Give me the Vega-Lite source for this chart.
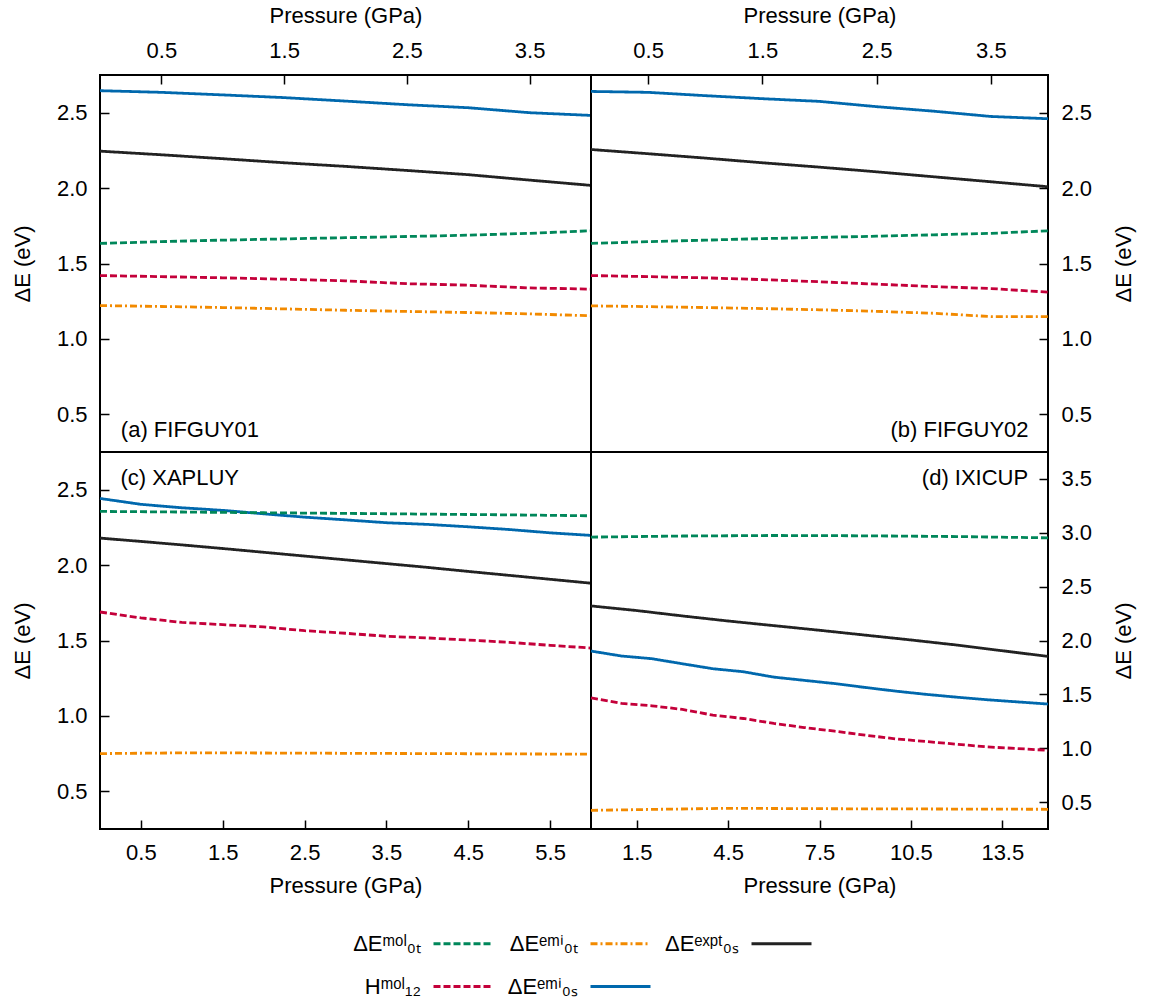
{
  "$schema": "https://vega.github.io/schema/vega-lite/v6.json",
  "background": "white",
  "padding": {"left": 10, "top": 3, "right": 5, "bottom": 5},
  "datasets": {
    "curves": [
      {"panel": "a", "series": "dE0S_emi", "p": 0, "e": 2.646}, {"panel": "a", "series": "dE0S_emi", "p": 0.5, "e": 2.635}, {"panel": "a", "series": "dE0S_emi", "p": 1, "e": 2.618}, {"panel": "a", "series": "dE0S_emi", "p": 1.5, "e": 2.6}, {"panel": "a", "series": "dE0S_emi", "p": 2, "e": 2.577}, {"panel": "a", "series": "dE0S_emi", "p": 2.5, "e": 2.553}, {"panel": "a", "series": "dE0S_emi", "p": 3, "e": 2.533}, {"panel": "a", "series": "dE0S_emi", "p": 3.5, "e": 2.5}, {"panel": "a", "series": "dE0S_emi", "p": 4, "e": 2.482},
      {"panel": "a", "series": "dE0S_expt", "p": 0, "e": 2.245}, {"panel": "a", "series": "dE0S_expt", "p": 0.5, "e": 2.221}, {"panel": "a", "series": "dE0S_expt", "p": 1, "e": 2.195}, {"panel": "a", "series": "dE0S_expt", "p": 1.5, "e": 2.168}, {"panel": "a", "series": "dE0S_expt", "p": 2, "e": 2.144}, {"panel": "a", "series": "dE0S_expt", "p": 2.5, "e": 2.117}, {"panel": "a", "series": "dE0S_expt", "p": 3, "e": 2.089}, {"panel": "a", "series": "dE0S_expt", "p": 3.5, "e": 2.053}, {"panel": "a", "series": "dE0S_expt", "p": 4, "e": 2.018},
      {"panel": "a", "series": "dE0T_mol", "p": 0, "e": 1.633}, {"panel": "a", "series": "dE0T_mol", "p": 0.5, "e": 1.645}, {"panel": "a", "series": "dE0T_mol", "p": 1, "e": 1.655}, {"panel": "a", "series": "dE0T_mol", "p": 1.5, "e": 1.663}, {"panel": "a", "series": "dE0T_mol", "p": 2, "e": 1.671}, {"panel": "a", "series": "dE0T_mol", "p": 2.5, "e": 1.679}, {"panel": "a", "series": "dE0T_mol", "p": 3, "e": 1.688}, {"panel": "a", "series": "dE0T_mol", "p": 3.5, "e": 1.7}, {"panel": "a", "series": "dE0T_mol", "p": 4, "e": 1.717},
      {"panel": "a", "series": "H12_mol", "p": 0, "e": 1.42}, {"panel": "a", "series": "H12_mol", "p": 0.5, "e": 1.413}, {"panel": "a", "series": "H12_mol", "p": 1, "e": 1.405}, {"panel": "a", "series": "H12_mol", "p": 1.5, "e": 1.396}, {"panel": "a", "series": "H12_mol", "p": 2, "e": 1.385}, {"panel": "a", "series": "H12_mol", "p": 2.5, "e": 1.366}, {"panel": "a", "series": "H12_mol", "p": 3, "e": 1.356}, {"panel": "a", "series": "H12_mol", "p": 3.5, "e": 1.338}, {"panel": "a", "series": "H12_mol", "p": 4, "e": 1.33},
      {"panel": "a", "series": "dE0T_emi", "p": 0, "e": 1.221}, {"panel": "a", "series": "dE0T_emi", "p": 0.5, "e": 1.215}, {"panel": "a", "series": "dE0T_emi", "p": 1, "e": 1.208}, {"panel": "a", "series": "dE0T_emi", "p": 1.5, "e": 1.199}, {"panel": "a", "series": "dE0T_emi", "p": 2, "e": 1.19}, {"panel": "a", "series": "dE0T_emi", "p": 2.5, "e": 1.182}, {"panel": "a", "series": "dE0T_emi", "p": 3, "e": 1.175}, {"panel": "a", "series": "dE0T_emi", "p": 3.5, "e": 1.166}, {"panel": "a", "series": "dE0T_emi", "p": 4, "e": 1.153},

      {"panel": "b", "series": "dE0S_emi", "p": 0, "e": 2.641}, {"panel": "b", "series": "dE0S_emi", "p": 0.5, "e": 2.635}, {"panel": "b", "series": "dE0S_emi", "p": 1, "e": 2.613}, {"panel": "b", "series": "dE0S_emi", "p": 1.5, "e": 2.593}, {"panel": "b", "series": "dE0S_emi", "p": 2, "e": 2.575}, {"panel": "b", "series": "dE0S_emi", "p": 2.5, "e": 2.54}, {"panel": "b", "series": "dE0S_emi", "p": 3, "e": 2.51}, {"panel": "b", "series": "dE0S_emi", "p": 3.5, "e": 2.475}, {"panel": "b", "series": "dE0S_emi", "p": 4, "e": 2.46},
      {"panel": "b", "series": "dE0S_expt", "p": 0, "e": 2.256}, {"panel": "b", "series": "dE0S_expt", "p": 0.5, "e": 2.228}, {"panel": "b", "series": "dE0S_expt", "p": 1, "e": 2.199}, {"panel": "b", "series": "dE0S_expt", "p": 1.5, "e": 2.168}, {"panel": "b", "series": "dE0S_expt", "p": 2, "e": 2.139}, {"panel": "b", "series": "dE0S_expt", "p": 2.5, "e": 2.108}, {"panel": "b", "series": "dE0S_expt", "p": 3, "e": 2.075}, {"panel": "b", "series": "dE0S_expt", "p": 3.5, "e": 2.042}, {"panel": "b", "series": "dE0S_expt", "p": 4, "e": 2.009},
      {"panel": "b", "series": "dE0T_mol", "p": 0, "e": 1.633}, {"panel": "b", "series": "dE0T_mol", "p": 0.5, "e": 1.645}, {"panel": "b", "series": "dE0T_mol", "p": 1, "e": 1.655}, {"panel": "b", "series": "dE0T_mol", "p": 1.5, "e": 1.665}, {"panel": "b", "series": "dE0T_mol", "p": 2, "e": 1.673}, {"panel": "b", "series": "dE0T_mol", "p": 2.5, "e": 1.681}, {"panel": "b", "series": "dE0T_mol", "p": 3, "e": 1.69}, {"panel": "b", "series": "dE0T_mol", "p": 3.5, "e": 1.7}, {"panel": "b", "series": "dE0T_mol", "p": 4, "e": 1.717},
      {"panel": "b", "series": "H12_mol", "p": 0, "e": 1.42}, {"panel": "b", "series": "H12_mol", "p": 0.5, "e": 1.413}, {"panel": "b", "series": "H12_mol", "p": 1, "e": 1.405}, {"panel": "b", "series": "H12_mol", "p": 1.5, "e": 1.393}, {"panel": "b", "series": "H12_mol", "p": 2, "e": 1.379}, {"panel": "b", "series": "H12_mol", "p": 2.5, "e": 1.363}, {"panel": "b", "series": "H12_mol", "p": 3, "e": 1.347}, {"panel": "b", "series": "H12_mol", "p": 3.5, "e": 1.334}, {"panel": "b", "series": "H12_mol", "p": 4, "e": 1.31},
      {"panel": "b", "series": "dE0T_emi", "p": 0, "e": 1.219}, {"panel": "b", "series": "dE0T_emi", "p": 0.5, "e": 1.214}, {"panel": "b", "series": "dE0T_emi", "p": 1, "e": 1.208}, {"panel": "b", "series": "dE0T_emi", "p": 1.5, "e": 1.201}, {"panel": "b", "series": "dE0T_emi", "p": 2, "e": 1.193}, {"panel": "b", "series": "dE0T_emi", "p": 2.5, "e": 1.183}, {"panel": "b", "series": "dE0T_emi", "p": 3, "e": 1.17}, {"panel": "b", "series": "dE0T_emi", "p": 3.5, "e": 1.148}, {"panel": "b", "series": "dE0T_emi", "p": 4, "e": 1.148},

      {"panel": "c", "series": "dE0S_emi", "p": 0, "e": 2.442}, {"panel": "c", "series": "dE0S_emi", "p": 0.5, "e": 2.403}, {"panel": "c", "series": "dE0S_emi", "p": 1, "e": 2.38}, {"panel": "c", "series": "dE0S_emi", "p": 1.5, "e": 2.363}, {"panel": "c", "series": "dE0S_emi", "p": 2, "e": 2.34}, {"panel": "c", "series": "dE0S_emi", "p": 2.5, "e": 2.318}, {"panel": "c", "series": "dE0S_emi", "p": 3, "e": 2.3}, {"panel": "c", "series": "dE0S_emi", "p": 3.5, "e": 2.281}, {"panel": "c", "series": "dE0S_emi", "p": 4, "e": 2.27}, {"panel": "c", "series": "dE0S_emi", "p": 4.5, "e": 2.254}, {"panel": "c", "series": "dE0S_emi", "p": 5, "e": 2.236}, {"panel": "c", "series": "dE0S_emi", "p": 5.5, "e": 2.214}, {"panel": "c", "series": "dE0S_emi", "p": 6, "e": 2.197},
      {"panel": "c", "series": "dE0T_mol", "p": 0, "e": 2.356}, {"panel": "c", "series": "dE0T_mol", "p": 1, "e": 2.352}, {"panel": "c", "series": "dE0T_mol", "p": 2, "e": 2.347}, {"panel": "c", "series": "dE0T_mol", "p": 3, "e": 2.343}, {"panel": "c", "series": "dE0T_mol", "p": 4, "e": 2.338}, {"panel": "c", "series": "dE0T_mol", "p": 5, "e": 2.333}, {"panel": "c", "series": "dE0T_mol", "p": 6, "e": 2.327},
      {"panel": "c", "series": "dE0S_expt", "p": 0, "e": 2.179}, {"panel": "c", "series": "dE0S_expt", "p": 0.5, "e": 2.157}, {"panel": "c", "series": "dE0S_expt", "p": 1, "e": 2.134}, {"panel": "c", "series": "dE0S_expt", "p": 1.5, "e": 2.11}, {"panel": "c", "series": "dE0S_expt", "p": 2, "e": 2.085}, {"panel": "c", "series": "dE0S_expt", "p": 2.5, "e": 2.06}, {"panel": "c", "series": "dE0S_expt", "p": 3, "e": 2.035}, {"panel": "c", "series": "dE0S_expt", "p": 3.5, "e": 2.01}, {"panel": "c", "series": "dE0S_expt", "p": 4, "e": 1.985}, {"panel": "c", "series": "dE0S_expt", "p": 4.5, "e": 1.958}, {"panel": "c", "series": "dE0S_expt", "p": 5, "e": 1.932}, {"panel": "c", "series": "dE0S_expt", "p": 5.5, "e": 1.906}, {"panel": "c", "series": "dE0S_expt", "p": 6, "e": 1.88},
      {"panel": "c", "series": "H12_mol", "p": 0, "e": 1.689}, {"panel": "c", "series": "H12_mol", "p": 0.5, "e": 1.65}, {"panel": "c", "series": "H12_mol", "p": 1, "e": 1.62}, {"panel": "c", "series": "H12_mol", "p": 1.5, "e": 1.605}, {"panel": "c", "series": "H12_mol", "p": 2, "e": 1.59}, {"panel": "c", "series": "H12_mol", "p": 2.5, "e": 1.565}, {"panel": "c", "series": "H12_mol", "p": 3, "e": 1.548}, {"panel": "c", "series": "H12_mol", "p": 3.5, "e": 1.528}, {"panel": "c", "series": "H12_mol", "p": 4, "e": 1.517}, {"panel": "c", "series": "H12_mol", "p": 4.5, "e": 1.503}, {"panel": "c", "series": "H12_mol", "p": 5, "e": 1.488}, {"panel": "c", "series": "H12_mol", "p": 5.5, "e": 1.468}, {"panel": "c", "series": "H12_mol", "p": 6, "e": 1.45},
      {"panel": "c", "series": "dE0T_emi", "p": 0, "e": 0.75}, {"panel": "c", "series": "dE0T_emi", "p": 1, "e": 0.755}, {"panel": "c", "series": "dE0T_emi", "p": 2, "e": 0.754}, {"panel": "c", "series": "dE0T_emi", "p": 3, "e": 0.752}, {"panel": "c", "series": "dE0T_emi", "p": 4, "e": 0.75}, {"panel": "c", "series": "dE0T_emi", "p": 5, "e": 0.748}, {"panel": "c", "series": "dE0T_emi", "p": 6, "e": 0.746},

      {"panel": "d", "series": "dE0T_mol", "p": 0, "e": 2.96}, {"panel": "d", "series": "dE0T_mol", "p": 3, "e": 2.97}, {"panel": "d", "series": "dE0T_mol", "p": 6, "e": 2.975}, {"panel": "d", "series": "dE0T_mol", "p": 9, "e": 2.972}, {"panel": "d", "series": "dE0T_mol", "p": 12, "e": 2.965}, {"panel": "d", "series": "dE0T_mol", "p": 15, "e": 2.953},
      {"panel": "d", "series": "dE0S_expt", "p": 0, "e": 2.321}, {"panel": "d", "series": "dE0S_expt", "p": 1.5, "e": 2.278}, {"panel": "d", "series": "dE0S_expt", "p": 3, "e": 2.228}, {"panel": "d", "series": "dE0S_expt", "p": 4.5, "e": 2.181}, {"panel": "d", "series": "dE0S_expt", "p": 6, "e": 2.138}, {"panel": "d", "series": "dE0S_expt", "p": 7.5, "e": 2.095}, {"panel": "d", "series": "dE0S_expt", "p": 9, "e": 2.05}, {"panel": "d", "series": "dE0S_expt", "p": 10.5, "e": 2.005}, {"panel": "d", "series": "dE0S_expt", "p": 12, "e": 1.958}, {"panel": "d", "series": "dE0S_expt", "p": 13.5, "e": 1.905}, {"panel": "d", "series": "dE0S_expt", "p": 15, "e": 1.852},
      {"panel": "d", "series": "dE0S_emi", "p": 0, "e": 1.902}, {"panel": "d", "series": "dE0S_emi", "p": 1, "e": 1.856}, {"panel": "d", "series": "dE0S_emi", "p": 2, "e": 1.831}, {"panel": "d", "series": "dE0S_emi", "p": 3, "e": 1.784}, {"panel": "d", "series": "dE0S_emi", "p": 4, "e": 1.738}, {"panel": "d", "series": "dE0S_emi", "p": 5, "e": 1.71}, {"panel": "d", "series": "dE0S_emi", "p": 6, "e": 1.66}, {"panel": "d", "series": "dE0S_emi", "p": 7, "e": 1.63}, {"panel": "d", "series": "dE0S_emi", "p": 8, "e": 1.6}, {"panel": "d", "series": "dE0S_emi", "p": 9, "e": 1.564}, {"panel": "d", "series": "dE0S_emi", "p": 10, "e": 1.53}, {"panel": "d", "series": "dE0S_emi", "p": 11, "e": 1.5}, {"panel": "d", "series": "dE0S_emi", "p": 12, "e": 1.474}, {"panel": "d", "series": "dE0S_emi", "p": 13, "e": 1.45}, {"panel": "d", "series": "dE0S_emi", "p": 14, "e": 1.43}, {"panel": "d", "series": "dE0S_emi", "p": 15, "e": 1.41},
      {"panel": "d", "series": "H12_mol", "p": 0, "e": 1.468}, {"panel": "d", "series": "H12_mol", "p": 1, "e": 1.416}, {"panel": "d", "series": "H12_mol", "p": 2, "e": 1.394}, {"panel": "d", "series": "H12_mol", "p": 3, "e": 1.36}, {"panel": "d", "series": "H12_mol", "p": 4, "e": 1.307}, {"panel": "d", "series": "H12_mol", "p": 5, "e": 1.276}, {"panel": "d", "series": "H12_mol", "p": 6, "e": 1.23}, {"panel": "d", "series": "H12_mol", "p": 7, "e": 1.192}, {"panel": "d", "series": "H12_mol", "p": 8, "e": 1.158}, {"panel": "d", "series": "H12_mol", "p": 9, "e": 1.121}, {"panel": "d", "series": "H12_mol", "p": 10, "e": 1.087}, {"panel": "d", "series": "H12_mol", "p": 11, "e": 1.062}, {"panel": "d", "series": "H12_mol", "p": 12, "e": 1.037}, {"panel": "d", "series": "H12_mol", "p": 13, "e": 1.012}, {"panel": "d", "series": "H12_mol", "p": 14, "e": 0.997}, {"panel": "d", "series": "H12_mol", "p": 15, "e": 0.98},
      {"panel": "d", "series": "dE0T_emi", "p": 0, "e": 0.423}, {"panel": "d", "series": "dE0T_emi", "p": 2, "e": 0.432}, {"panel": "d", "series": "dE0T_emi", "p": 4.5, "e": 0.442}, {"panel": "d", "series": "dE0T_emi", "p": 8, "e": 0.438}, {"panel": "d", "series": "dE0T_emi", "p": 11, "e": 0.436}, {"panel": "d", "series": "dE0T_emi", "p": 15, "e": 0.433}
    ],
    "labels": [
      {"panel": "a", "p": 0.17, "e": 0.398, "label": "(a) FIFGUY01"},
      {"panel": "b", "p": 3.83, "e": 0.398, "label": "(b) FIFGUY02"},
      {"panel": "c", "p": 0.25, "e": 2.58, "label": "(c) XAPLUY"},
      {"panel": "d", "p": 14.35, "e": 3.508, "label": "(d) IXICUP"}
    ]
  },
  "columns": 2,
  "spacing": 0,
  "bounds": "flush",
  "resolve": {"scale": {"color": "shared", "strokeDash": "shared"}, "legend": {"color": "shared", "strokeDash": "shared"}},
  "concat": [
    {
      "width": 491, "height": 377,
      "layer": [
        {
          "data": {"name": "curves"},
          "transform": [{"filter": "datum.panel === 'a'"}],
          "mark": {"type": "line", "strokeWidth": 2.8},
          "encoding": {
            "x": {"field": "p", "type": "quantitative", "scale": {"domain": [0, 4], "nice": false, "zero": false}, "axis": {"orient": "top", "values": [0.5, 1.5, 2.5, 3.5], "format": ".1f", "title": "Pressure (GPa)"}},
            "y": {"field": "e", "type": "quantitative", "scale": {"domain": [0.25, 2.75], "nice": false, "zero": false}, "axis": {"orient": "left", "values": [0.5, 1, 1.5, 2, 2.5], "format": ".1f", "title": "ΔE (eV)"}},
            "color": {"field": "series", "type": "nominal", "scale": {"domain": ["dE0T_mol", "H12_mol", "dE0T_emi", "dE0S_emi", "dE0S_expt"], "range": ["#00875a", "#c4003a", "#f28a00", "#0068ad", "#222222"]}, "legend": {"labelExpr": "datum.label === 'dE0T_mol' ? 'ΔEᵐᵒˡ₀ₜ' : datum.label === 'dE0T_emi' ? 'ΔEᵉᵐⁱ₀ₜ' : datum.label === 'dE0S_expt' ? 'ΔEᵉˣᵖᵗ₀ₛ' : datum.label === 'H12_mol' ? 'Hᵐᵒˡ₁₂' : 'ΔEᵉᵐⁱ₀ₛ'"}},
            "strokeDash": {"field": "series", "type": "nominal", "scale": {"domain": ["dE0T_mol", "H12_mol", "dE0T_emi", "dE0S_emi", "dE0S_expt"], "range": [[7, 3], [7, 3], [7, 3, 2, 3], [1, 0], [1, 0]]}, "legend": {"labelExpr": "datum.label === 'dE0T_mol' ? 'ΔEᵐᵒˡ₀ₜ' : datum.label === 'dE0T_emi' ? 'ΔEᵉᵐⁱ₀ₜ' : datum.label === 'dE0S_expt' ? 'ΔEᵉˣᵖᵗ₀ₛ' : datum.label === 'H12_mol' ? 'Hᵐᵒˡ₁₂' : 'ΔEᵉᵐⁱ₀ₛ'"}}
          }
        },
        {
          "data": {"name": "labels"},
          "transform": [{"filter": "datum.panel === 'a'"}],
          "mark": {"type": "text", "align": "left", "baseline": "middle", "fontSize": 22, "font": "Liberation Sans", "color": "black"},
          "encoding": {"x": {"field": "p", "type": "quantitative"}, "y": {"field": "e", "type": "quantitative"}, "text": {"field": "label", "type": "nominal"}}
        }
      ]
    },
    {
      "width": 457, "height": 377,
      "layer": [
        {
          "data": {"name": "curves"},
          "transform": [{"filter": "datum.panel === 'b'"}],
          "mark": {"type": "line", "strokeWidth": 2.8},
          "encoding": {
            "x": {"field": "p", "type": "quantitative", "scale": {"domain": [0, 4], "nice": false, "zero": false}, "axis": {"orient": "top", "values": [0.5, 1.5, 2.5, 3.5], "format": ".1f", "title": "Pressure (GPa)"}},
            "y": {"field": "e", "type": "quantitative", "scale": {"domain": [0.25, 2.75], "nice": false, "zero": false}, "axis": {"orient": "right", "values": [0.5, 1, 1.5, 2, 2.5], "format": ".1f", "title": "ΔE (eV)", "titleAngle": 270, "titleBaseline": "top"}},
            "color": {"field": "series", "type": "nominal", "scale": {"domain": ["dE0T_mol", "H12_mol", "dE0T_emi", "dE0S_emi", "dE0S_expt"], "range": ["#00875a", "#c4003a", "#f28a00", "#0068ad", "#222222"]}, "legend": {"labelExpr": "datum.label === 'dE0T_mol' ? 'ΔEᵐᵒˡ₀ₜ' : datum.label === 'dE0T_emi' ? 'ΔEᵉᵐⁱ₀ₜ' : datum.label === 'dE0S_expt' ? 'ΔEᵉˣᵖᵗ₀ₛ' : datum.label === 'H12_mol' ? 'Hᵐᵒˡ₁₂' : 'ΔEᵉᵐⁱ₀ₛ'"}},
            "strokeDash": {"field": "series", "type": "nominal", "scale": {"domain": ["dE0T_mol", "H12_mol", "dE0T_emi", "dE0S_emi", "dE0S_expt"], "range": [[7, 3], [7, 3], [7, 3, 2, 3], [1, 0], [1, 0]]}, "legend": {"labelExpr": "datum.label === 'dE0T_mol' ? 'ΔEᵐᵒˡ₀ₜ' : datum.label === 'dE0T_emi' ? 'ΔEᵉᵐⁱ₀ₜ' : datum.label === 'dE0S_expt' ? 'ΔEᵉˣᵖᵗ₀ₛ' : datum.label === 'H12_mol' ? 'Hᵐᵒˡ₁₂' : 'ΔEᵉᵐⁱ₀ₛ'"}}
          }
        },
        {
          "data": {"name": "labels"},
          "transform": [{"filter": "datum.panel === 'b'"}],
          "mark": {"type": "text", "align": "right", "baseline": "middle", "fontSize": 22, "font": "Liberation Sans", "color": "black"},
          "encoding": {"x": {"field": "p", "type": "quantitative"}, "y": {"field": "e", "type": "quantitative"}, "text": {"field": "label", "type": "nominal"}}
        }
      ]
    },
    {
      "width": 491, "height": 377,
      "layer": [
        {
          "data": {"name": "curves"},
          "transform": [{"filter": "datum.panel === 'c'"}],
          "mark": {"type": "line", "strokeWidth": 2.8},
          "encoding": {
            "x": {"field": "p", "type": "quantitative", "scale": {"domain": [0, 6], "nice": false, "zero": false}, "axis": {"orient": "bottom", "values": [0.5, 1.5, 2.5, 3.5, 4.5, 5.5], "format": ".1f", "title": "Pressure (GPa)"}},
            "y": {"field": "e", "type": "quantitative", "scale": {"domain": [0.25, 2.75], "nice": false, "zero": false}, "axis": {"orient": "left", "values": [0.5, 1, 1.5, 2, 2.5], "format": ".1f", "title": "ΔE (eV)"}},
            "color": {"field": "series", "type": "nominal", "scale": {"domain": ["dE0T_mol", "H12_mol", "dE0T_emi", "dE0S_emi", "dE0S_expt"], "range": ["#00875a", "#c4003a", "#f28a00", "#0068ad", "#222222"]}, "legend": {"labelExpr": "datum.label === 'dE0T_mol' ? 'ΔEᵐᵒˡ₀ₜ' : datum.label === 'dE0T_emi' ? 'ΔEᵉᵐⁱ₀ₜ' : datum.label === 'dE0S_expt' ? 'ΔEᵉˣᵖᵗ₀ₛ' : datum.label === 'H12_mol' ? 'Hᵐᵒˡ₁₂' : 'ΔEᵉᵐⁱ₀ₛ'"}},
            "strokeDash": {"field": "series", "type": "nominal", "scale": {"domain": ["dE0T_mol", "H12_mol", "dE0T_emi", "dE0S_emi", "dE0S_expt"], "range": [[7, 3], [7, 3], [7, 3, 2, 3], [1, 0], [1, 0]]}, "legend": {"labelExpr": "datum.label === 'dE0T_mol' ? 'ΔEᵐᵒˡ₀ₜ' : datum.label === 'dE0T_emi' ? 'ΔEᵉᵐⁱ₀ₜ' : datum.label === 'dE0S_expt' ? 'ΔEᵉˣᵖᵗ₀ₛ' : datum.label === 'H12_mol' ? 'Hᵐᵒˡ₁₂' : 'ΔEᵉᵐⁱ₀ₛ'"}}
          }
        },
        {
          "data": {"name": "labels"},
          "transform": [{"filter": "datum.panel === 'c'"}],
          "mark": {"type": "text", "align": "left", "baseline": "middle", "fontSize": 22, "font": "Liberation Sans", "color": "black"},
          "encoding": {"x": {"field": "p", "type": "quantitative"}, "y": {"field": "e", "type": "quantitative"}, "text": {"field": "label", "type": "nominal"}}
        }
      ]
    },
    {
      "width": 457, "height": 377,
      "layer": [
        {
          "data": {"name": "curves"},
          "transform": [{"filter": "datum.panel === 'd'"}],
          "mark": {"type": "line", "strokeWidth": 2.8},
          "encoding": {
            "x": {"field": "p", "type": "quantitative", "scale": {"domain": [0, 15], "nice": false, "zero": false}, "axis": {"orient": "bottom", "values": [1.5, 4.5, 7.5, 10.5, 13.5], "format": ".1f", "title": "Pressure (GPa)"}},
            "y": {"field": "e", "type": "quantitative", "scale": {"domain": [0.25, 3.75], "nice": false, "zero": false}, "axis": {"orient": "right", "values": [0.5, 1, 1.5, 2, 2.5, 3, 3.5], "format": ".1f", "title": "ΔE (eV)", "titleAngle": 270, "titleBaseline": "top"}},
            "color": {"field": "series", "type": "nominal", "scale": {"domain": ["dE0T_mol", "H12_mol", "dE0T_emi", "dE0S_emi", "dE0S_expt"], "range": ["#00875a", "#c4003a", "#f28a00", "#0068ad", "#222222"]}, "legend": {"labelExpr": "datum.label === 'dE0T_mol' ? 'ΔEᵐᵒˡ₀ₜ' : datum.label === 'dE0T_emi' ? 'ΔEᵉᵐⁱ₀ₜ' : datum.label === 'dE0S_expt' ? 'ΔEᵉˣᵖᵗ₀ₛ' : datum.label === 'H12_mol' ? 'Hᵐᵒˡ₁₂' : 'ΔEᵉᵐⁱ₀ₛ'"}},
            "strokeDash": {"field": "series", "type": "nominal", "scale": {"domain": ["dE0T_mol", "H12_mol", "dE0T_emi", "dE0S_emi", "dE0S_expt"], "range": [[7, 3], [7, 3], [7, 3, 2, 3], [1, 0], [1, 0]]}, "legend": {"labelExpr": "datum.label === 'dE0T_mol' ? 'ΔEᵐᵒˡ₀ₜ' : datum.label === 'dE0T_emi' ? 'ΔEᵉᵐⁱ₀ₜ' : datum.label === 'dE0S_expt' ? 'ΔEᵉˣᵖᵗ₀ₛ' : datum.label === 'H12_mol' ? 'Hᵐᵒˡ₁₂' : 'ΔEᵉᵐⁱ₀ₛ'"}}
          }
        },
        {
          "data": {"name": "labels"},
          "transform": [{"filter": "datum.panel === 'd'"}],
          "mark": {"type": "text", "align": "right", "baseline": "middle", "fontSize": 22, "font": "Liberation Sans", "color": "black"},
          "encoding": {"x": {"field": "p", "type": "quantitative"}, "y": {"field": "e", "type": "quantitative"}, "text": {"field": "label", "type": "nominal"}}
        }
      ]
    }
  ],
  "config": {
    "font": "Liberation Sans",
    "view": {"stroke": "black", "strokeWidth": 2},
    "axis": {"domain": false, "grid": false, "ticks": true, "tickSize": -9, "tickWidth": 1.5, "tickColor": "black", "labelFont": "Liberation Sans", "labelFontSize": 22, "labelColor": "black", "labelPadding": 22, "titleFont": "Liberation Sans", "titleFontSize": 22, "titleFontWeight": "normal", "titleColor": "black", "titlePadding": 12},
    "axisY": {"titlePadding": 22},
    "legend": {"title": null, "orient": "none", "legendX": 332, "legendY": 837, "columns": 3, "symbolType": "stroke", "symbolSize": 3600, "symbolStrokeWidth": 2.8, "labelAlign": "right", "labelOffset": -74, "labelFont": "Liberation Sans", "labelFontSize": 22, "labelColor": "black", "labelLimit": 300, "columnPadding": 7, "rowPadding": 0}
  }
}
